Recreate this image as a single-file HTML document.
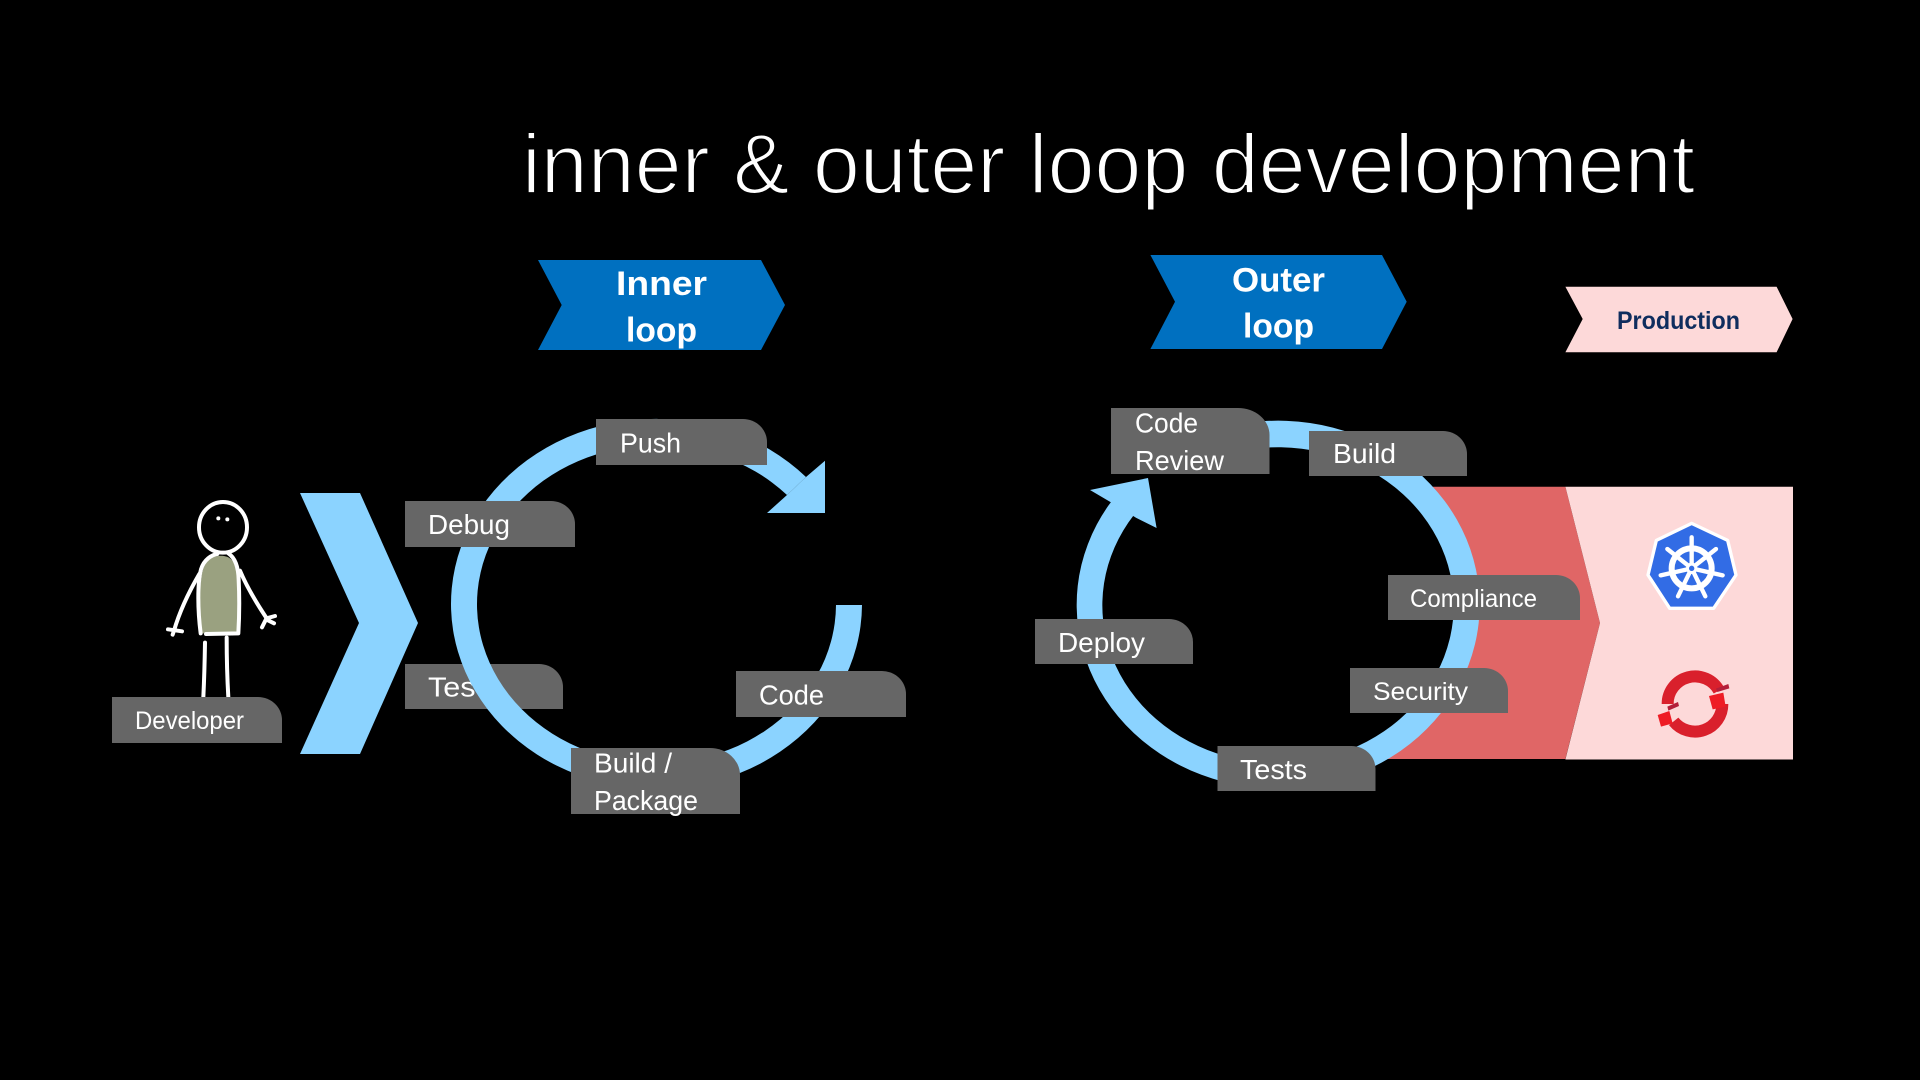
<!DOCTYPE html>
<html lang="en">
<head>
<meta charset="utf-8">
<title>inner &amp; outer loop development</title>
<style>
html,body{margin:0;padding:0;background:#000;width:1920px;height:1080px;overflow:hidden}
svg{display:block}
text{font-family:"Liberation Sans",sans-serif}
.t{fill:#fff;font-size:28px}
.s{fill:#fff;font-size:25px}
.b{fill:#fff;font-size:34px;font-weight:bold}
</style>
</head>
<body>
<svg width="1920" height="1080" viewBox="0 0 1920 1080" xmlns="http://www.w3.org/2000/svg">
<rect width="1920" height="1080" fill="#000"/>

<!-- Title -->
<text x="522" y="193" font-size="84" fill="#fff" stroke="#000" stroke-width="2" textLength="1173" lengthAdjust="spacingAndGlyphs">inner &amp; outer loop development</text>

<!-- Banners -->
<polygon points="538,260 761,260 785,305 761,350 538,350 561.7,305" fill="#0070c0"/>
<text class="b" x="616" y="295" textLength="91" lengthAdjust="spacingAndGlyphs">Inner</text>
<text class="b" x="626" y="341.7" textLength="71" lengthAdjust="spacingAndGlyphs">loop</text>
<polygon points="1150.4,255 1382,255 1406.7,301.7 1382,349 1150.4,349 1175,301.7" fill="#0070c0"/>
<text class="b" x="1232" y="291.7" textLength="93" lengthAdjust="spacingAndGlyphs">Outer</text>
<text class="b" x="1243" y="337.7" textLength="71" lengthAdjust="spacingAndGlyphs">loop</text>
<polygon points="1565.4,286.7 1776.6,286.7 1792.6,319 1776.6,352.3 1565.4,352.3 1582.7,319" fill="#fdd9d9"/>
<text x="1617" y="329" font-size="25" font-weight="bold" fill="#0f2d5e" textLength="123" lengthAdjust="spacingAndGlyphs">Production</text>

<!-- Developer figure -->
<g transform="translate(100,470) scale(.33333)">
  <path d="M307,490 C298,420 296,340 310,295 C322,262 350,255 372,258 C398,262 412,285 415,330 C419,390 418,440 415,490 Z" fill="#9aa180"/>
  <g fill="none" stroke="#fff" stroke-width="12" stroke-linecap="round" stroke-linejoin="round">
    <ellipse cx="369" cy="172" rx="72" ry="76"/>
    <path d="M302,490 C293,420 292,340 303,298 C312,268 335,255 352,252"/>
    <path d="M385,250 C403,262 415,285 416,330 C419,390 418,440 415,490 L318,492"/>
    <path d="M298,312 C270,360 240,420 222,482"/>
    <path d="M204,478 L246,484 M222,482 L218,494"/>
    <path d="M420,302 C440,350 470,400 500,445"/>
    <path d="M500,445 L525,438 M498,448 L522,460 M498,448 L486,472"/>
    <path d="M315,518 C314,580 312,640 310,682"/>
    <path d="M380,503 C380,570 382,630 385,682"/>
  </g>
  <circle cx="355" cy="145" r="6" fill="#fff"/>
  <circle cx="382" cy="148" r="6" fill="#fff"/>
</g>
<path d="M112,697 H258 A24,23 0 0 1 282,720 V743 H112 Z" fill="#666"/>
<text class="s" x="135" y="729" textLength="109" lengthAdjust="spacingAndGlyphs">Developer</text>

<!-- Big chevron -->
<polygon points="300,493 360,493 418,623 360,754 300,754 359,623" fill="#8bd3ff"/>

<!-- Production area -->
<path d="M1412,486.7 L1565.4,486.7 L1600,623 L1565.4,759 L1385,759 L1385,746 A188.6,171 0 0 0 1412,486.7 Z" fill="#e06666"/>
<polygon points="1565.4,486.7 1793,486.7 1793,759.5 1565.4,759.5 1600,623" fill="#fdd9d9"/>

<!-- Kubernetes icon -->
<g transform="translate(1560,480) scale(.33333)">
  <polygon points="395,130 503,181 528,285 461,385 329,385 264,285 289,181" fill="#326ce5" stroke="#fff" stroke-width="10" stroke-linejoin="round"/>
  <circle cx="395" cy="265" r="60" fill="none" stroke="#fff" stroke-width="18"/>
  <g stroke="#fff" stroke-width="13" stroke-linecap="round">
    <line x1="395" y1="265" x2="395" y2="172"/>
    <line x1="395" y1="265" x2="468" y2="207"/>
    <line x1="395" y1="265" x2="488" y2="286"/>
    <line x1="395" y1="265" x2="436" y2="349"/>
    <line x1="395" y1="265" x2="354" y2="349"/>
    <line x1="395" y1="265" x2="302" y2="286"/>
    <line x1="395" y1="265" x2="322" y2="207"/>
  </g>
  <circle cx="395" cy="265" r="17" fill="#fff"/>
  <circle cx="395" cy="265" r="8" fill="#326ce5"/>
</g>

<!-- OpenShift icon -->
<g transform="translate(1560,480) scale(.33333)">
  <path d="M323,672 A82,82 0 0 1 477,632" fill="none" stroke="#d9202c" stroke-width="36"/>
  <path d="M487,672 A82,82 0 0 1 341,724" fill="none" stroke="#d9202c" stroke-width="36"/>
  <polygon points="447,648 490,638 497,680 458,688" fill="#ee1c25"/>
  <polygon points="293,705 328,693 338,730 303,740" fill="#ee1c25"/>
  <polygon points="468,626 505,612 508,625 472,636" fill="#b31f3a"/>
  <polygon points="322,680 354,666 357,678 325,692" fill="#b31f3a"/>
</g>

<!-- Test tag below ring -->
<path d="M405,664 H539 A24,23 0 0 1 563,687 V709 H405 Z" fill="#666"/>
<text class="t" x="428" y="696.7" textLength="56" lengthAdjust="spacingAndGlyphs">Test</text>

<!-- Inner ring -->
<path d="M862,605 A205.5,185 0 1 1 806,477 L787,495 A179.5,159 0 1 0 836,605 Z" fill="#8bd3ff"/>
<polygon points="825,460.7 825,513 767,513 787,495 806,477" fill="#8bd3ff"/>

<!-- Outer ring -->
<path d="M1240,424 A201.5,184 0 1 1 1122,488.4 L1147,500 A175.7,158 0 1 0 1240,451 Z" fill="#8bd3ff"/>
<polygon points="1090,490 1148,478 1156.6,528 1136,517.7 1113.8,504" fill="#8bd3ff"/>

<!-- Inner tags -->
<path d="M596,419 H743 A24,23 0 0 1 767,442 V465 H596 Z" fill="#666"/>
<text class="t" x="620" y="452.7" textLength="61" lengthAdjust="spacingAndGlyphs">Push</text>
<path d="M405,501 H551 A24,23 0 0 1 575,524 V547 H405 Z" fill="#666"/>
<text class="t" x="428" y="534" textLength="82" lengthAdjust="spacingAndGlyphs">Debug</text>
<path d="M736,671 H882 A24,23 0 0 1 906,694 V717 H736 Z" fill="#666"/>
<text class="t" x="759" y="704.5" textLength="65" lengthAdjust="spacingAndGlyphs">Code</text>
<path d="M571,748 H710 A30,27 0 0 1 740,775 V814 H571 Z" fill="#666"/>
<text class="t" x="594" y="772.7" textLength="78" lengthAdjust="spacingAndGlyphs">Build /</text>
<text class="t" x="594" y="810" textLength="104" lengthAdjust="spacingAndGlyphs">Package</text>

<!-- Outer tags -->
<path d="M1111,408 H1238 A31.5,27 0 0 1 1269.5,435 V474 H1111 Z" fill="#666"/>
<text class="t" x="1135" y="432.7" textLength="63" lengthAdjust="spacingAndGlyphs">Code</text>
<text class="t" x="1135" y="470" textLength="89" lengthAdjust="spacingAndGlyphs">Review</text>
<path d="M1309,431 H1443 A24,23 0 0 1 1467,454 V476 H1309 Z" fill="#666"/>
<text class="t" x="1333" y="463" textLength="63" lengthAdjust="spacingAndGlyphs">Build</text>
<path d="M1388,575 H1556 A24,23 0 0 1 1580,598 V620 H1388 Z" fill="#666"/>
<text class="s" x="1410" y="607" textLength="127" lengthAdjust="spacingAndGlyphs">Compliance</text>
<path d="M1035,619 H1169 A24,23 0 0 1 1193,642 V664 H1035 Z" fill="#666"/>
<text class="t" x="1058" y="652" textLength="87" lengthAdjust="spacingAndGlyphs">Deploy</text>
<path d="M1350,668 H1484 A24,23 0 0 1 1508,691 V713 H1350 Z" fill="#666"/>
<text class="s" x="1373" y="700" textLength="95" lengthAdjust="spacingAndGlyphs">Security</text>
<path d="M1217.5,746 H1351.5 A24,23 0 0 1 1375.5,769 V791 H1217.5 Z" fill="#666"/>
<text class="t" x="1240" y="779" textLength="67" lengthAdjust="spacingAndGlyphs">Tests</text>
</svg>
</body>
</html>
